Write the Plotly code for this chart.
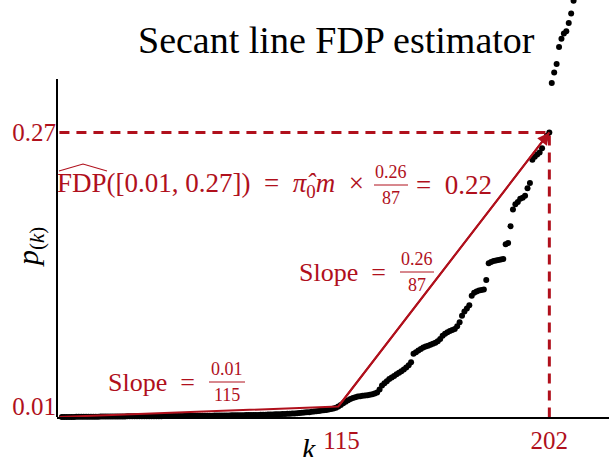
import plotly.graph_objects as go

# Sorted p-values p_(k), k = 1..m
p_sorted = [
    0.0000, 0.0000, 0.0001, 0.0001, 0.0001, 0.0001, 0.0002, 0.0002, 0.0002, 0.0002,
    0.0002, 0.0003, 0.0003, 0.0003, 0.0003, 0.0003, 0.0004, 0.0004, 0.0004, 0.0004,
    0.0004, 0.0005, 0.0005, 0.0005, 0.0005, 0.0005, 0.0005, 0.0006, 0.0006, 0.0006,
    0.0006, 0.0006, 0.0007, 0.0007, 0.0007, 0.0007, 0.0007, 0.0008, 0.0008, 0.0008,
    0.0008, 0.0008, 0.0009, 0.0009, 0.0009, 0.0009, 0.0010, 0.0010, 0.0010, 0.0010,
    0.0010, 0.0011, 0.0011, 0.0011, 0.0011, 0.0012, 0.0012, 0.0012, 0.0012, 0.0013,
    0.0013, 0.0013, 0.0013, 0.0014, 0.0014, 0.0014, 0.0015, 0.0015, 0.0015, 0.0015,
    0.0016, 0.0016, 0.0016, 0.0017, 0.0017, 0.0017, 0.0018, 0.0018, 0.0019, 0.0019,
    0.0020, 0.0020, 0.0021, 0.0021, 0.0022, 0.0023, 0.0023, 0.0024, 0.0025, 0.0026,
    0.0027, 0.0028, 0.0029, 0.0030, 0.0031, 0.0033, 0.0034, 0.0036, 0.0038, 0.0040,
    0.0042, 0.0044, 0.0046, 0.0049, 0.0052, 0.0055, 0.0058, 0.0061, 0.0064, 0.0067,
    0.0071, 0.0076, 0.0081, 0.0088, 0.0100,
    0.0115, 0.0130, 0.0145, 0.0158, 0.0170, 0.0180, 0.0188, 0.0194, 0.0198, 0.0201,
    0.0204, 0.0207, 0.0211, 0.0216, 0.0222,
    0.0232, 0.0260, 0.0300, 0.0320, 0.0340, 0.0360, 0.0375, 0.0390, 0.0405, 0.0420,
    0.0435, 0.0450, 0.0470, 0.0490, 0.0520,
    0.0600, 0.0615, 0.0630, 0.0645, 0.0660, 0.0668, 0.0676, 0.0685, 0.0695, 0.0705,
    0.0720, 0.0740, 0.0770, 0.0790, 0.0805,
    0.0815, 0.0825, 0.0835, 0.0860, 0.0900, 0.0960, 0.1000, 0.1030, 0.1060, 0.1150,
    0.1180, 0.1190, 0.1200, 0.1205, 0.1210,
    0.1300, 0.1460, 0.1470, 0.1480, 0.1485, 0.1490, 0.1495, 0.1500, 0.1640, 0.1650,
    0.1810, 0.1970, 0.2020, 0.2040, 0.2070,
    0.2080, 0.2100, 0.2170, 0.2220, 0.2440, 0.2470, 0.2490, 0.2510, 0.2550, 0.2630,
    0.2670, 0.2700,
    0.3170, 0.3270, 0.3350, 0.3510, 0.3590, 0.3640, 0.3660, 0.3740, 0.3830, 0.3950,
    0.4100, 0.4300, 0.4500,
]
k_index = list(range(1, len(p_sorted) + 1))

# Secant line through (0, 0), (k1, t1), (k2, t2)
k1, k2 = 115, 202
t1, t2 = 0.01, 0.27
secant_k = [0, k1, k2]
secant_p = [0, t1, t2]

x_ticks = [k1, k2]
x_ticklabels = ["&nbsp;115", "202"]
y_ticks = [t1, t2]
y_ticklabels = ["0.01", "0.27"]
y_spine_top = 0.3207   # the left spine stops here; sorted p-values run past it

RED = "#b0101c"
SERIF = "Liberation Serif, DejaVu Serif, serif"

W, H = 609, 457
L, T, PW, PH = 57, 0, 552, 417
X_SCALE = 2.4253   # px per unit of k
Y_SCALE = 1053.8   # px per unit of p


def fx(x):
    return (x - L) / PW


def fy(y):
    return (T + PH - y) / PH


fig = go.Figure()

fig.add_trace(go.Scatter(
    x=k_index, y=p_sorted, mode="markers",
    marker=dict(color="black", size=6, line=dict(width=0)),
    cliponaxis=False, showlegend=False, hoverinfo="skip",
))

# dashed guides to the chosen threshold
fig.add_trace(go.Scatter(
    x=[0, k2, k2], y=[t2, t2, 0], mode="lines",
    line=dict(color=RED, width=3, dash="10px,7px"),
    showlegend=False, hoverinfo="skip",
))

fig.add_trace(go.Scatter(
    x=secant_k, y=secant_p, mode="lines",
    line=dict(color=RED, width=2),
    showlegend=False, hoverinfo="skip",
))

annotations = [
    # arrow head on the upper secant segment
    dict(x=secant_k[2], y=secant_p[2], ax=secant_k[1], ay=secant_p[1],
         xref="x", yref="y", axref="x", ayref="y", text="",
         showarrow=True, arrowhead=2, arrowsize=1.2, arrowwidth=2, arrowcolor=RED),
    dict(text="Secant line FDP estimator", xref="paper", yref="paper",
         x=fx(336), y=fy(40), xanchor="center", yanchor="middle", showarrow=False,
         font=dict(family=SERIF, size=38, color="black")),
    dict(text="<i>p</i><sub>(<i>k</i>)</sub>", xref="paper", yref="paper",
         x=fx(30), y=fy(247), xanchor="center", yanchor="middle", showarrow=False,
         textangle=-90, font=dict(family=SERIF, size=30, color="black")),
    dict(text="<i>k</i>", xref="paper", yref="paper",
         x=fx(309), y=fy(448), xanchor="center", yanchor="middle", showarrow=False,
         font=dict(family=SERIF, size=30, color="black")),
]
shapes = [
    # left spine
    dict(type="line", xref="paper", yref="y", x0=0, x1=0, y0=0, y1=y_spine_top,
         line=dict(color="black", width=2)),
]


def frac_label(prefix, num, den, left, yc, frac_cx, frac_w, suffix=None, suffix_left=None,
               size=26):
    annotations.append(dict(text=prefix, xref="paper", yref="paper", x=fx(left), y=fy(yc),
                            xanchor="left", yanchor="middle", showarrow=False,
                            font=dict(family=SERIF, size=size, color=RED)))
    annotations.append(dict(text=num, xref="paper", yref="paper", x=fx(frac_cx), y=fy(yc - 1),
                            xanchor="center", yanchor="bottom", showarrow=False,
                            font=dict(family=SERIF, size=18, color=RED)))
    annotations.append(dict(text=den, xref="paper", yref="paper", x=fx(frac_cx), y=fy(yc + 1),
                            xanchor="center", yanchor="top", showarrow=False,
                            font=dict(family=SERIF, size=18, color=RED)))
    shapes.append(dict(type="line", xref="paper", yref="paper",
                       x0=fx(frac_cx - frac_w / 2), x1=fx(frac_cx + frac_w / 2),
                       y0=fy(yc), y1=fy(yc), line=dict(color=RED, width=1)))
    if suffix:
        annotations.append(dict(text=suffix, xref="paper", yref="paper", x=fx(suffix_left), y=fy(yc),
                                xanchor="left", yanchor="middle", showarrow=False,
                                font=dict(family=SERIF, size=size, color=RED)))


frac_label("FDP([0.01,&nbsp;0.27])&nbsp; =&nbsp; <i>π̂</i><sub>0</sub><i>m</i>&nbsp; ×",
           "0.26", "87", 55, 185, 391, 34, "=&nbsp; 0.22", 414, size=27)
frac_label("Slope&nbsp; =", "0.26", "87", 297, 272, 417, 34)
frac_label("Slope&nbsp; =", "0.01", "115", 106, 382, 227, 36)

# wide hat over FDP
shapes.append(dict(type="path", xref="paper", yref="paper",
                   path=f"M {fx(59)} {fy(171)} L {fx(83)} {fy(164)} L {fx(107)} {fy(171)}",
                   line=dict(color=RED, width=1.2)))

fig.update_layout(
    width=W, height=H,
    margin=dict(l=L, r=W - L - PW, t=T, b=H - T - PH),
    plot_bgcolor="white", paper_bgcolor="white",
    annotations=annotations, shapes=shapes,
    xaxis=dict(range=[-1, -1 + PW / X_SCALE], showline=True, linecolor="black", linewidth=2,
               showgrid=False, zeroline=False, ticks="",
               tickvals=x_ticks, ticktext=x_ticklabels,
               tickfont=dict(family=SERIF, size=25, color=RED)),
    yaxis=dict(range=[0, PH / Y_SCALE], showline=False,
               showgrid=False, zeroline=False, ticks="",
               tickvals=y_ticks, ticktext=y_ticklabels,
               tickfont=dict(family=SERIF, size=25, color=RED)),
)

fig.write_html("out.html")
